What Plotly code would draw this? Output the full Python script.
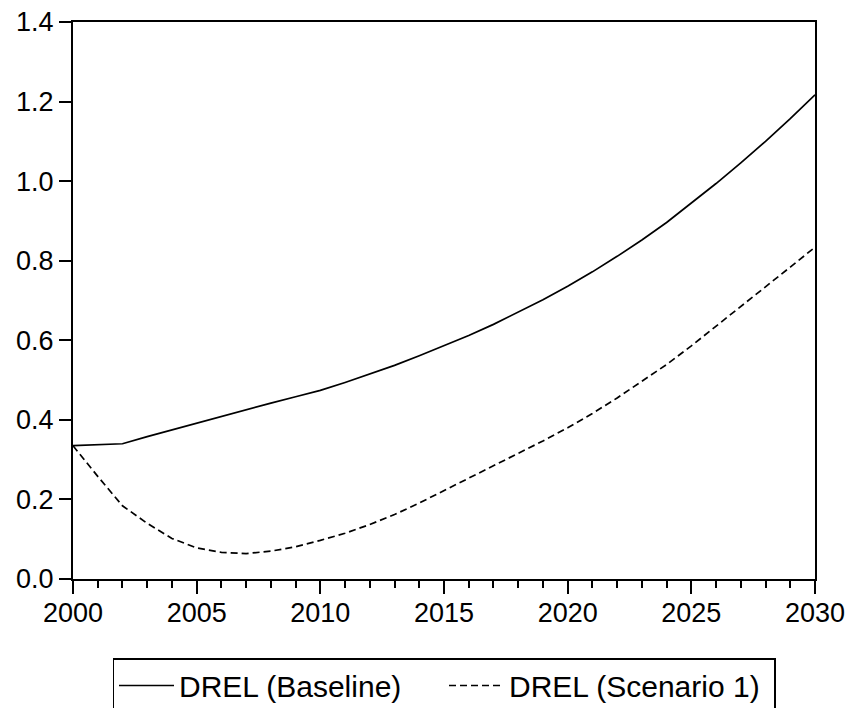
import plotly.graph_objects as go

years = list(range(2000, 2031))
baseline = [0.335, 0.337, 0.340, 0.358, 0.375, 0.391, 0.408, 0.425, 0.442, 0.458,
            0.474, 0.494, 0.515, 0.537, 0.561, 0.586, 0.612, 0.640, 0.670, 0.702,
            0.736, 0.772, 0.811, 0.852, 0.896, 0.944, 0.994, 1.046, 1.100, 1.157,
            1.217]
scenario1 = [0.335, 0.258, 0.184, 0.140, 0.102, 0.078, 0.067, 0.064, 0.070, 0.081,
             0.097, 0.115, 0.137, 0.162, 0.191, 0.222, 0.253, 0.284, 0.315, 0.347,
             0.380, 0.416, 0.455, 0.496, 0.539, 0.586, 0.635, 0.685, 0.735, 0.784,
             0.834]
y_ticks = [0.0, 0.2, 0.4, 0.6, 0.8, 1.0, 1.2, 1.4]
x_ticks = [2000, 2005, 2010, 2015, 2020, 2025, 2030]

FONT = "Arial, Liberation Sans, sans-serif"
W, H = 849, 708

fig = go.Figure()
fig.add_trace(go.Scatter(x=years, y=baseline, mode="lines", name="DREL (Baseline)",
                         line=dict(color="black", width=1.7)))
fig.add_trace(go.Scatter(x=years, y=scenario1, mode="lines", name="DREL (Scenario 1)",
                         line=dict(color="black", width=1.7, dash="7px,4px")))

fig.update_layout(
    width=W, height=H,
    margin=dict(l=73, r=34, t=22, b=129, autoexpand=False),
    paper_bgcolor="white", plot_bgcolor="white",
    font=dict(family=FONT, size=27, color="black"),
    showlegend=True,
    legend=dict(orientation="h", x=0.5, xanchor="center",
                yref="container", y=1 - 658 / H, yanchor="top",
                bordercolor="black", borderwidth=1.5, bgcolor="white",
                font=dict(size=30, family=FONT), itemwidth=55,
                entrywidth=260, tracegroupgap=0),
)
fig.update_xaxes(range=[2000, 2030], tickvals=x_ticks, ticktext=[str(v) for v in x_ticks],
                 showgrid=False, zeroline=False, showline=True, linecolor="black",
                 linewidth=2, mirror=True, ticks="outside", ticklen=13, tickwidth=2,
                 tickcolor="black", automargin=False, ticklabelstandoff=-4,
                 ticklabeloverflow="allow",
                 minor=dict(dtick=1, tick0=2000, ticks="outside", ticklen=7,
                            tickwidth=2, tickcolor="black", showgrid=False),
                 tickfont=dict(size=27, family=FONT))
fig.update_yaxes(range=[0, 1.4], tickvals=y_ticks, ticktext=[f"{v:.1f}" for v in y_ticks],
                 showgrid=False, zeroline=False, showline=True, linecolor="black",
                 linewidth=2, mirror=True, ticks="outside", ticklen=12, tickwidth=2,
                 tickcolor="black", automargin=False, ticklabeloverflow="allow",
                 tickfont=dict(size=27, family=FONT))

fig.write_html("out.html", config={"displayModeBar": False},
               post_script="document.body.style.margin='0';document.body.style.overflow='hidden';")
